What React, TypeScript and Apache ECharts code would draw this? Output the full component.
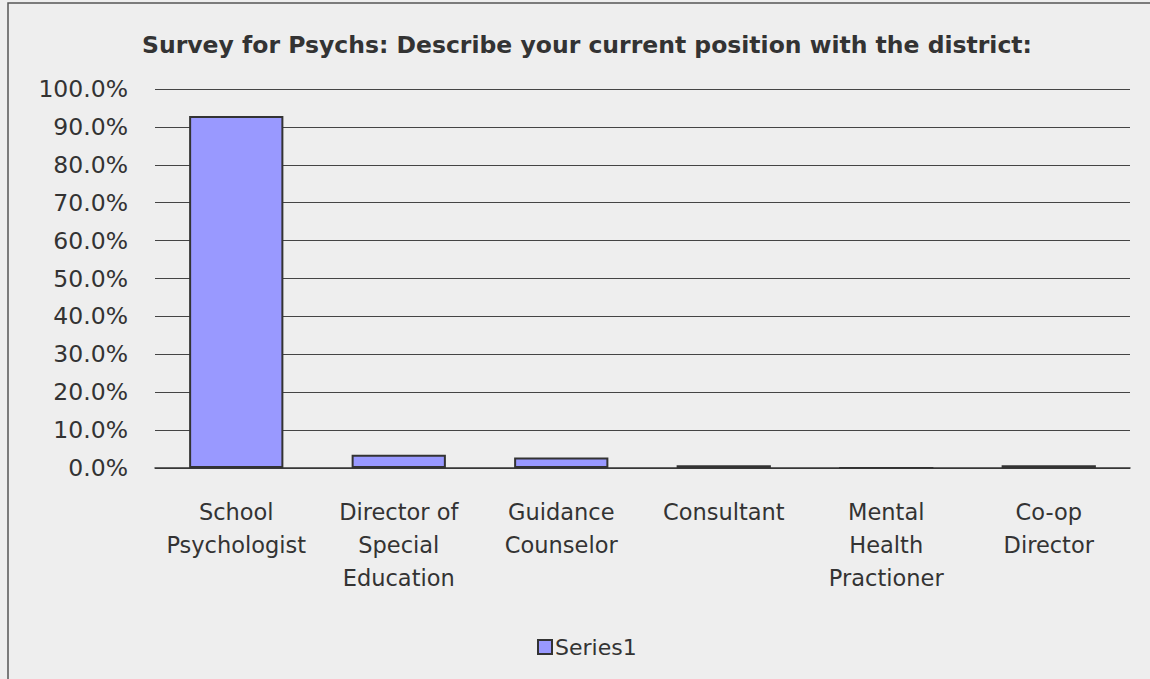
import React, { useEffect, useRef } from "react";
import * as echarts from "echarts";

const categories = [
  "School\nPsychologist",
  "Director of\nSpecial\nEducation",
  "Guidance\nCounselor",
  "Consultant",
  "Mental\nHealth\nPractioner",
  "Co-op\nDirector",
];
const series1 = [92.9, 3.5, 2.8, 0.7, 0, 0.7];
const titleText = "Survey for Psychs: Describe your current position with the district:";
const seriesName = "Series1";

const FONT = "Tahoma, 'DejaVu Sans', sans-serif";

export default function App() {
  const ref = useRef<HTMLDivElement>(null);
  useEffect(() => {
    if (!ref.current) return;
    const chart = echarts.init(ref.current, null, { renderer: "svg" });
    chart.setOption({
      animation: false,
      backgroundColor: "#eeeeee",
      textStyle: { fontFamily: FONT },
      title: {
        text: titleText,
        left: 582,
        textAlign: "center",
        top: 28,
        textStyle: { fontFamily: FONT, fontSize: 23.5, fontWeight: "bold", color: "#333" },
      },
      graphic: [
        {
          type: "rect",
          shape: { x: 8, y: 3, width: 1200, height: 700 },
          style: { fill: "none", stroke: "#555", lineWidth: 1.5 },
          silent: true,
        },
      ],
      legend: {
        data: [{ name: seriesName, icon: "rect" }],
        top: 631,
        left: 532,
        itemWidth: 14,
        itemHeight: 14,
        itemGap: 4,
        textStyle: { fontFamily: FONT, fontSize: 22, color: "#333", padding: [0, 0, 0, -2] },
      },
      grid: { left: 155, right: 20, top: 89, bottom: 679 - 468, containLabel: false },
      xAxis: {
        type: "category",
        data: categories,
        axisLine: { show: true, lineStyle: { color: "#333", width: 1.5 } },
        axisTick: { show: false },
        axisLabel: {
          fontFamily: FONT,
          fontSize: 22.5,
          color: "#333",
          lineHeight: 33,
          margin: 27,
          interval: 0,
        },
      },
      yAxis: {
        type: "value",
        min: 0,
        max: 100,
        interval: 10,
        axisLine: { show: false },
        axisTick: { show: false },
        axisLabel: {
          fontFamily: FONT,
          fontSize: 23.5,
          color: "#333",
          margin: 27,
          formatter: (v: number) => v.toFixed(1) + "%",
        },
        splitLine: { lineStyle: { color: "#444", width: 1.2 } },
      },
      series: [
        {
          name: seriesName,
          type: "bar",
          data: series1,
          barWidth: "58%",
          itemStyle: { color: "#9999ff", borderColor: "#333", borderWidth: 2 },
        },
      ],
    });
    return () => chart.dispose();
  }, []);
  return (
    <div
      ref={ref}
      style={{ position: "fixed", left: 0, top: 0, width: 1150, height: 679 }}
    />
  );
}
